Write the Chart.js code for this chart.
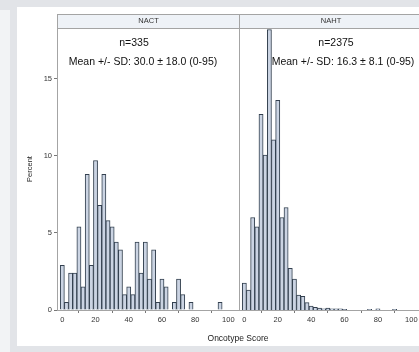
<!DOCTYPE html>
<html><head><meta charset="utf-8">
<script src="https://cdn.jsdelivr.net/npm/chart.js@4"></script>
<style>
html,body{margin:0;padding:0;width:419px;height:352px;overflow:hidden;background:#e2e4e8;font-family:"Liberation Sans",Arial,sans-serif;}
#lstrip{position:absolute;left:0;top:10px;width:10px;height:342px;background:#f2f3f5;}
#card{position:absolute;left:17px;top:7px;width:420px;height:339px;background:#fff;}
#c1{position:absolute;left:0;top:0;}
#c2{position:absolute;left:238px;top:0;}
#xt{position:absolute;left:0;width:476px;top:333px;text-align:center;font-size:8.5px;color:#222;line-height:11px;}
</style></head>
<body>
<div id="lstrip"></div>
<div id="card"></div>
<canvas id="c1" width="241" height="352" style="width:241px;height:352px"></canvas>
<canvas id="c2" width="186" height="352" style="width:186px;height:352px"></canvas>
<div id="xt">Oncotype Score</div>
<script>
// Bin centres (Oncotype Score, bin width 2.5)
const bins = [0,2.5,5,7.5,10,12.5,15,17.5,20,22.5,25,27.5,30,32.5,35,37.5,40,42.5,45,47.5,50,52.5,55,57.5,60,62.5,65,67.5,70,72.5,75,77.5,80,82.5,85,87.5,90,92.5,95];
// Percent of patients per bin
const nactPercent = [2.9,0.5,2.4,2.4,5.4,1.5,8.8,2.9,9.7,6.8,8.8,5.8,5.4,4.4,3.9,1.0,1.5,1.0,4.4,2.4,4.4,2.0,3.9,0.5,2.0,1.5,0,0.5,2.0,1.0,0,0.5,0,0,0,0,0,0,0.5];
const nahtPercent = [1.75,1.3,6.0,5.4,12.7,10.05,18.2,11.05,13.6,6.0,6.65,2.7,2.0,0.97,0.88,0.48,0.25,0.17,0.13,0.08,0.13,0.08,0.08,0.08,0.04,0,0,0,0,0,0.04,0,0.08,0,0,0,0.04,0,0];
const xTicks = [0,20,40,60,80,100];
const yTicks = [0,5,10,15];
const panelTitles = ['NACT','NAHT'];
const nLabels = ['n=335','n=2375'];
const statLabels = ['Mean +/- SD: 30.0 \u00b1 18.0 (0-95)','Mean +/- SD: 16.3 \u00b1 8.1 (0-95)'];

const FONT = '"Liberation Sans", Arial, sans-serif';

const framePlugin = {
  id: 'panelFrame',
  beforeDraw(chart, args, opts) {
    const {ctx, chartArea: a} = chart;
    ctx.save();
    ctx.fillStyle = '#eef2f7';
    ctx.fillRect(a.left, a.top - 14, a.right - a.left, 14);
    ctx.restore();
  },
  afterDraw(chart, args, opts) {
    const {ctx, chartArea: a} = chart;
    ctx.save();
    ctx.strokeStyle = '#a4a4a4';
    ctx.lineWidth = 1;
    ctx.strokeRect(a.left + 0.5, a.top - 14 + 0.5, a.right - a.left - 1, a.bottom - a.top + 14);
    ctx.beginPath();
    ctx.moveTo(a.left, a.top + 0.5);
    ctx.lineTo(a.right, a.top + 0.5);
    ctx.stroke();
    ctx.fillStyle = '#333';
    ctx.font = '7.5px ' + FONT;
    ctx.textAlign = 'center';
    ctx.textBaseline = 'middle';
    ctx.fillText(opts.title, (a.left + a.right) / 2, a.top - 7);
    ctx.fillStyle = '#111';
    ctx.font = '10.5px ' + FONT;
    opts.lines.forEach(l => ctx.fillText(l.text, a.left + l.dx, a.top + l.dy));
    ctx.restore();
  }
};

function makePanel(id, values, idx, showY, pad) {
  return new Chart(document.getElementById(id), {
    type: 'bar',
    data: {
      datasets: [{
        data: bins.map((b, i) => ({x: b, y: values[i] === 0 ? null : values[i]})),
        backgroundColor: '#cbd4e3',
        borderColor: '#33404f',
        borderWidth: 1,
        barPercentage: 1,
        categoryPercentage: 1
      }]
    },
    options: {
      responsive: false,
      animation: false,
      layout: {padding: pad},
      plugins: {
        legend: {display: false},
        tooltip: {enabled: false},
        panelFrame: {
          title: panelTitles[idx],
          lines: [
            {text: nLabels[idx], dx: idx === 0 ? 77 : 97, dy: 15},
            {text: statLabels[idx], dx: idx === 0 ? 86 : 104, dy: 34}
          ]
        }
      },
      scales: {
        x: {
          type: 'linear',
          min: -3.2, max: 107,
          offset: false,
          afterBuildTicks: s => { s.ticks = xTicks.map(v => ({value: v})); },
          afterFit: s => { s.height = 35; },
          grid: {display: true, drawOnChartArea: false, drawTicks: true, tickLength: 3, color: '#777'},
          border: {display: true, color: '#a4a4a4'},
          ticks: {font: {size: 7.5, family: FONT}, color: '#333', padding: 2, maxRotation: 0, autoSkip: false}
        },
        y: {
          display: showY,
          min: 0, max: 18.3,
          afterBuildTicks: s => { s.ticks = yTicks.map(v => ({value: v})); },
          afterFit: s => { if (showY) s.width = 40; },
          grid: {display: true, drawOnChartArea: false, drawTicks: true, tickLength: 3, color: '#777'},
          border: {display: true, color: '#a4a4a4'},
          ticks: {font: {size: 7.5, family: FONT}, color: '#333', padding: 2},
          title: {display: true, text: 'Percent', font: {size: 7.5, family: FONT}, color: '#222', padding: {top: 8.5, bottom: 0}}
        }
      }
    },
    plugins: [framePlugin]
  });
}

makePanel('c1', nactPercent, 0, true, {left: 17, top: 28, right: 1, bottom: 7});
makePanel('c2', nahtPercent, 1, false, {left: 1, top: 28, right: 1, bottom: 7});
</script>
</body></html>
